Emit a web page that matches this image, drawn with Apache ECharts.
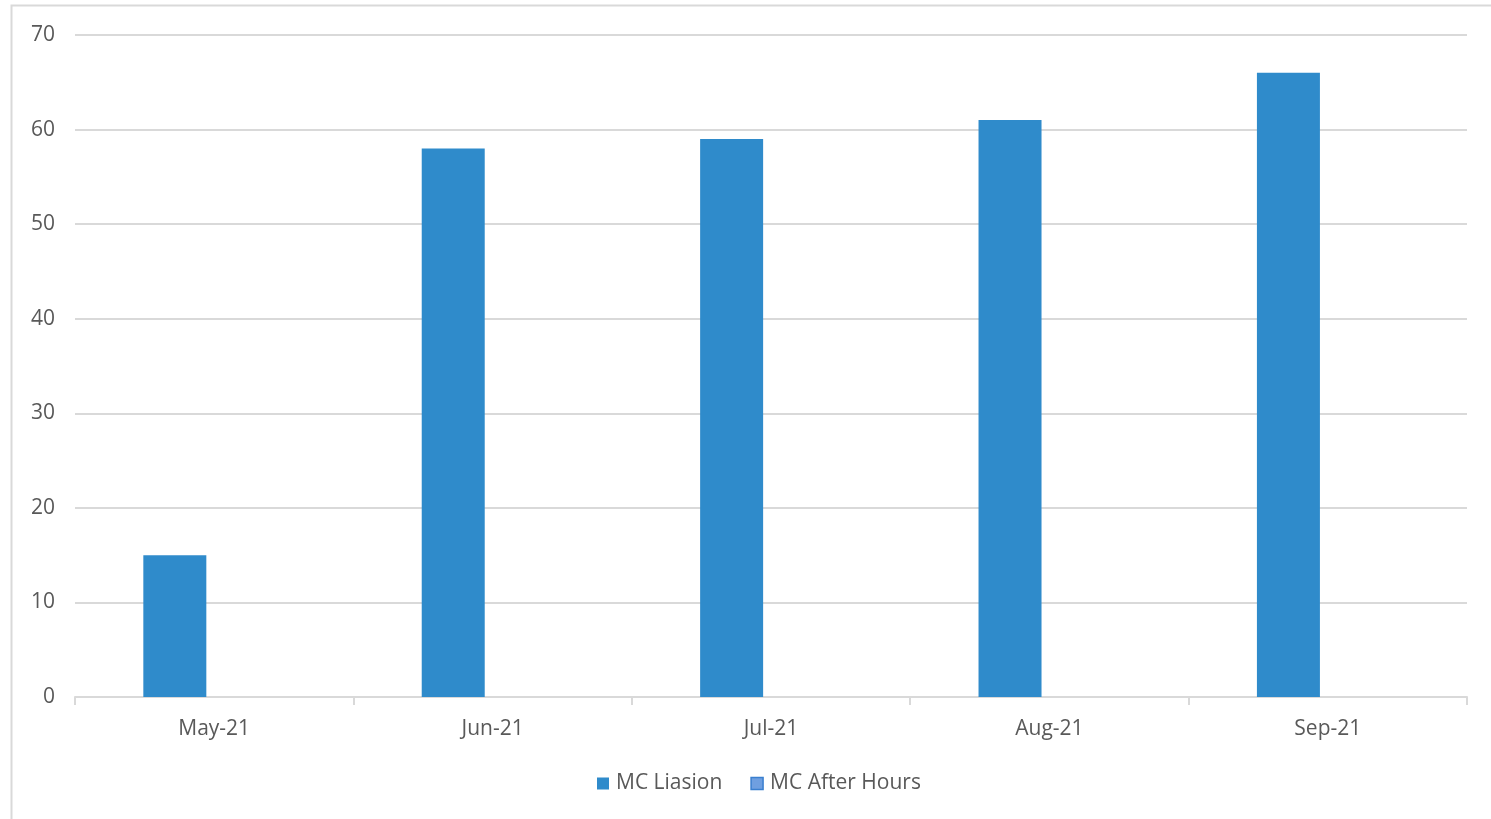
<!DOCTYPE html>
<html><head><meta charset="utf-8">
<script src="https://cdn.jsdelivr.net/npm/echarts@6/dist/echarts.min.js"></script>
<style>html,body{margin:0;padding:0;background:#fff}#c{width:1491px;height:819px}</style>
</head><body><div id="c"></div>
<script>
const categories = ['May-21','Jun-21','Jul-21','Aug-21','Sep-21'];
const liaison = [15, 58, 59, 61, 66];
const afterHours = [0, 0, 0, 0, 0];
const seriesNames = ['MC Liasion','MC After Hours'];
const yTicks = {min:0, max:70, interval:10};

const chart = echarts.init(document.getElementById('c'), null, {renderer:'canvas'});
const font = '"Open Sans", "Noto Sans", sans-serif';
chart.setOption({
  animation:false,
  backgroundColor:'#fff',
  graphic:[{type:'rect', shape:{x:11.5,y:5.5,width:1600,height:1000}, style:{fill:'none', stroke:'#d9d9d9', lineWidth:2}, silent:true}],
  grid:{left:75, right:24, top:35, bottom:122, containLabel:false},
  legend:{
    bottom:25, left:597, padding:0, itemWidth:12, itemHeight:12, itemGap:28,
    textStyle:{color:'#595959', fontSize:21, fontFamily:font, padding:[0,0,0,2]},
    data:[
      {name:seriesNames[0], icon:'rect'},
      {name:seriesNames[1], icon:'rect', itemStyle:{color:'#6f9fe0', borderColor:'#3a7fcf', borderWidth:1.5}}
    ]
  },
  xAxis:{
    type:'category', data:categories,
    axisLine:{lineStyle:{color:'#d9d9d9', width:2}},
    axisTick:{show:true, length:8, lineStyle:{color:'#d9d9d9', width:2}},
    axisLabel:{color:'#595959', fontSize:21, fontFamily:font, margin:22},
    splitLine:{show:false}
  },
  yAxis:{
    type:'value', min:yTicks.min, max:yTicks.max, interval:yTicks.interval,
    axisLine:{show:false}, axisTick:{show:false},
    axisLabel:{color:'#595959', fontSize:21, fontFamily:font, margin:20},
    splitLine:{lineStyle:{color:'#d9d9d9', width:2}}
  },
  series:[
    {name:seriesNames[0], type:'bar', data:liaison, barWidth:63, barGap:'25%', itemStyle:{color:'#2f8bcb'}},
    {name:seriesNames[1], type:'bar', data:afterHours, barWidth:63, itemStyle:{color:'#6f9fe0', borderWidth:0}}
  ]
});
</script></body></html>
